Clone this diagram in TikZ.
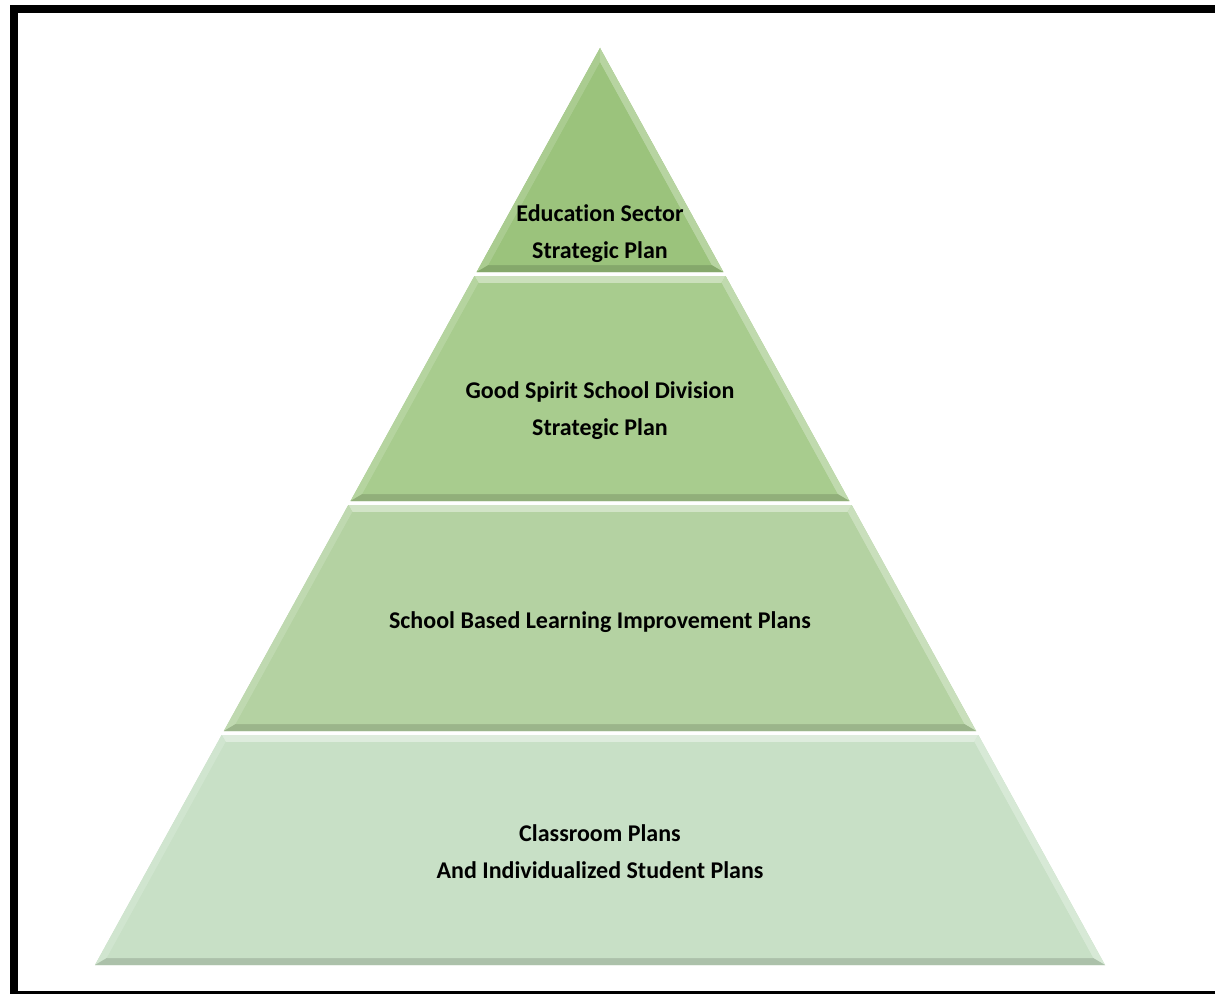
\documentclass[tikz,border=0pt]{standalone}
\usepackage{fontspec}
\setmainfont{Carlito}[Ligatures=NoCommon]
\begin{document}
\begin{tikzpicture}[x=1pt,y=-1pt,
  lbl/.style={font=\fontsize{24}{37}\selectfont\bfseries, text=black, align=center, inner sep=0pt},
  frame/.style={fill=black, draw=none}]
\definecolor{gA}{RGB}{155,195,124}
\definecolor{gB}{RGB}{168,204,142}
\definecolor{gC}{RGB}{180,210,162}
\definecolor{gD}{RGB}{200,224,198}
\useasboundingbox (0,0) rectangle (1215,995);
\fill[white] (0,0) rectangle (1215,995);
% frame
\fill[frame] (10,5) rectangle (1215,13);
\fill[frame] (10,5) rectangle (18,994);
\fill[frame] (10,991) rectangle (1215,994);
% layer macro
\newcommand\pyrlayer[3]{%
  \pgfmathsetmacro\tl{600-0.5507*(#1-48)}%
  \pgfmathsetmacro\tr{600+0.5507*(#1-48)}%
  \pgfmathsetmacro\bl{600-0.5507*(#2-48)}%
  \pgfmathsetmacro\br{600+0.5507*(#2-48)}%
  \pgfmathsetmacro\iy{max(#1+7,62.5)}%
  \pgfmathsetmacro\ib{#2-7}%
  \pgfmathsetmacro\itl{600-0.5507*(\iy-48)+8}%
  \pgfmathsetmacro\itr{600+0.5507*(\iy-48)-8}%
  \pgfmathsetmacro\ibl{600-0.5507*(\ib-48)+8}%
  \pgfmathsetmacro\ibr{600+0.5507*(\ib-48)-8}%
  \fill[#3] (\tl,#1) -- (\tr,#1) -- (\br,#2) -- (\bl,#2) -- cycle;
  % top facet (light)
  \fill[#3!60!white] (\tl,#1) -- (\tr,#1) -- (\itr,\iy) -- (\itl,\iy) -- cycle;
  % left facet
  \fill[#3!85!white] (\tl,#1) -- (\itl,\iy) -- (\ibl,\ib) -- (\bl,#2) -- cycle;
  % right facet
  \fill[#3!72!white] (\tr,#1) -- (\itr,\iy) -- (\ibr,\ib) -- (\br,#2) -- cycle;
  % bottom facet (dark)
  \fill[#3!86!black] (\bl,#2) -- (\br,#2) -- (\ibr,\ib) -- (\ibl,\ib) -- cycle;
  % inner face
  \fill[#3] (\itl,\iy) -- (\itr,\iy) -- (\ibr,\ib) -- (\ibl,\ib) -- cycle;
}
\pyrlayer{48}{272}{gA}
\pyrlayer{276}{501}{gB}
\pyrlayer{505}{731}{gC}
\pyrlayer{735}{965}{gD}
% labels
\node[lbl] (t1) at (600,234) {Education Sector\\Strategic Plan};
\node[lbl] (t2) at (600,411) {Good Spirit School Division\\Strategic Plan};
\node[lbl] (t3) at (600,622) {School Based Learning Improvement Plans};
\node[lbl] (t4) at (600,852) {Classroom Plans\\And Individualized Student Plans};
\end{tikzpicture}
\end{document}
